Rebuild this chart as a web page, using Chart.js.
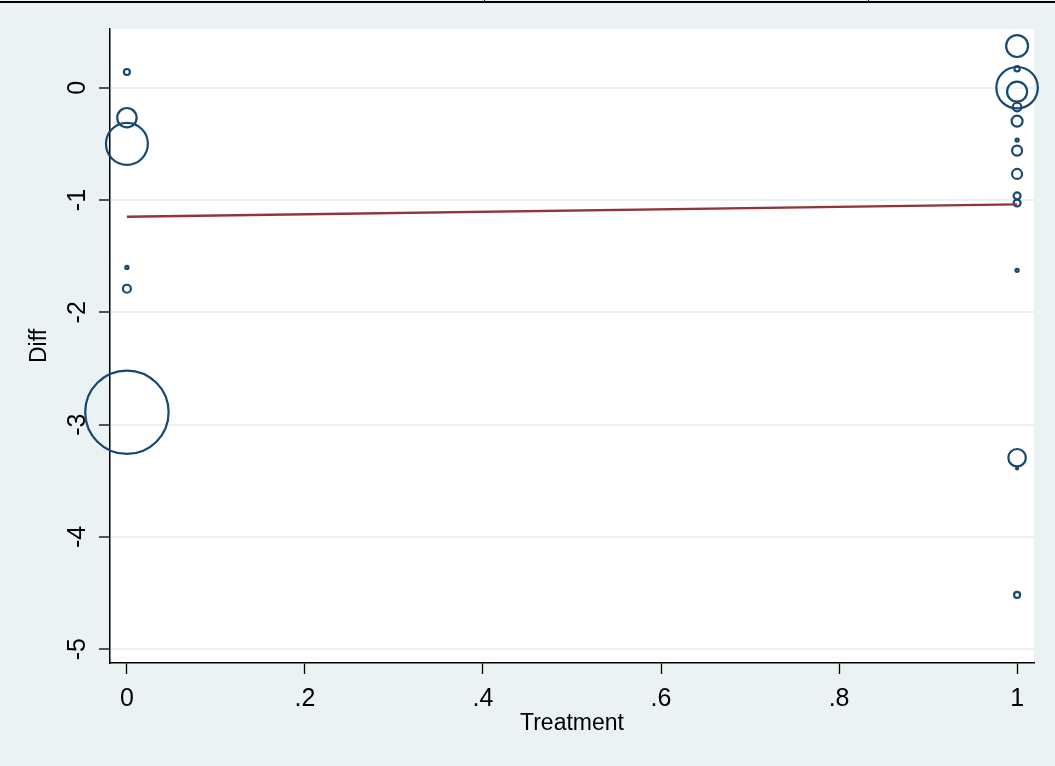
<!DOCTYPE html>
<html>
<head>
<meta charset="utf-8">
<title>Diff by Treatment</title>
<script src="https://cdn.jsdelivr.net/npm/chart.js@4.4.1/dist/chart.umd.min.js"></script>
<style>
  html, body { margin: 0; padding: 0; background: #ffffff; }
  #wrap { position: relative; width: 1055px; height: 766px; overflow: hidden; }
  #c { position: absolute; left: 0; top: 0; }
  #rule { position: absolute; left: 0; top: 1px; width: 1055px; height: 2px; background: #000; }
  .notch { position: absolute; top: 0; width: 1px; height: 3px; background: #000; }
</style>
</head>
<body>
<div id="wrap">
  <canvas id="c" width="1055" height="766"></canvas>
  <div id="rule"></div>
  <div class="notch" style="left:484px"></div>
  <div class="notch" style="left:868px"></div>
</div>
<script>
// Study-level observations: treatment arm, difference, and analytic weight
const treatment = [0, 0, 0, 0, 0, 0,
                   1, 1, 1, 1, 1, 1, 1, 1, 1, 1, 1, 1, 1, 1, 1];
const diff = [0.14, -0.267, -0.50, -1.60, -1.79, -2.89,
              0.371, 0.169, 0.00, -0.035, -0.172, -0.297, -0.466, -0.56,
              -0.768, -0.963, -1.027, -1.626, -3.295, -3.39, -4.517];
const weight = [0.9, 9.4, 44, 0.25, 1.6, 174,
                12, 0.7, 43, 10, 1.85, 3, 0.25, 2.5,
                2.5, 1.2, 1.2, 0.25, 7.6, 0.1, 0.9];

// Linear fit of Diff on Treatment
const fitX = [0, 1];
const fitY = [-1.149, -1.038];

// Axis ticks
const xTicks = [0, 0.2, 0.4, 0.6, 0.8, 1];
const xTickLabels = ['0', '.2', '.4', '.6', '.8', '1'];
const yTicks = [-5, -4, -3, -2, -1, 0];
const yTickLabels = ['-5', '-4', '-3', '-2', '-1', '0'];

const FONT = '"Liberation Sans", Arial, Helvetica, sans-serif';
const NAVY = '#1A476F';
const MAROON = '#90353B';
const REGION = '#EAF2F3';

// bubble area proportional to weight
const bubbleRadius = w => Math.sqrt(10 * w);

// keep the plot region fixed: no extra room for edge labels
const noEdgePadding = s => {
  s.paddingLeft = 0; s.paddingRight = 0; s.paddingTop = 0; s.paddingBottom = 0;
};

const backgrounds = {
  id: 'backgrounds',
  beforeDraw(chart) {
    const { ctx, chartArea: a } = chart;
    ctx.save();
    ctx.fillStyle = REGION;
    ctx.fillRect(0, 0, chart.width, chart.height);
    ctx.fillStyle = '#ffffff';
    ctx.fillRect(a.left, a.top, a.right - a.left, a.bottom - a.top);
    ctx.restore();
  }
};

new Chart(document.getElementById('c'), {
  type: 'bubble',
  data: {
    datasets: [
      {
        type: 'line',
        label: 'Fitted values',
        data: fitX.map((x, i) => ({ x, y: fitY[i] })),
        borderColor: MAROON,
        borderWidth: 2.3,
        pointRadius: 0,
        fill: false,
        tension: 0,
        order: 0
      },
      {
        type: 'bubble',
        label: 'Diff',
        data: treatment.map((x, i) => ({ x, y: diff[i] })),
        backgroundColor: 'rgba(0,0,0,0)',
        borderColor: NAVY,
        borderWidth: 2.2,
        radius: ctx => bubbleRadius(weight[ctx.dataIndex]),
        hoverRadius: 0,
        clip: false,
        order: 1
      }
    ]
  },
  options: {
    responsive: false,
    animation: false,
    devicePixelRatio: 1,
    events: [],
    layout: { autoPadding: false, padding: { left: 0, top: 29, right: 21, bottom: 0 } },
    plugins: { legend: { display: false }, tooltip: { enabled: false } },
    scales: {
      x: {
        type: 'linear',
        min: -0.019,
        max: 1.019,
        afterBuildTicks: s => { s.ticks = xTicks.map(v => ({ value: v })); },
        afterFit: s => { s.height = 103; noEdgePadding(s); },
        ticks: {
          autoSkip: false,
          maxRotation: 0,
          minRotation: 0,
          padding: 10,
          color: '#000',
          font: { family: FONT, size: 25 },
          callback: (v, i) => xTickLabels[i]
        },
        grid: {
          drawOnChartArea: false,
          drawTicks: true,
          tickLength: 11,
          tickColor: '#000',
          tickWidth: 1.3
        },
        border: { display: true, color: '#000', width: 1.5 },
        title: {
          display: true,
          text: 'Treatment',
          color: '#000',
          font: { family: FONT, size: 23 },
          padding: { top: 0, bottom: 29 }
        }
      },
      y: {
        type: 'linear',
        min: -5.123,
        max: 0.523,
        afterBuildTicks: s => { s.ticks = yTicks.map(v => ({ value: v })); },
        afterFit: s => { s.width = 110; noEdgePadding(s); },
        ticks: {
          autoSkip: false,
          minRotation: 90,
          maxRotation: 90,
          crossAlign: 'center',
          padding: 10,
          color: '#000',
          font: { family: FONT, size: 25 },
          callback: (v, i) => yTickLabels[i]
        },
        grid: {
          drawOnChartArea: true,
          color: REGION,
          lineWidth: 2,
          drawTicks: true,
          tickLength: 11,
          tickColor: '#000',
          tickWidth: 1.3
        },
        border: { display: true, color: '#000', width: 1.5 },
        title: {
          display: true,
          text: 'Diff',
          color: '#000',
          font: { family: FONT, size: 23 },
          padding: { top: 26, bottom: 0 }
        }
      }
    }
  },
  plugins: [backgrounds]
});
</script>
</body>
</html>
